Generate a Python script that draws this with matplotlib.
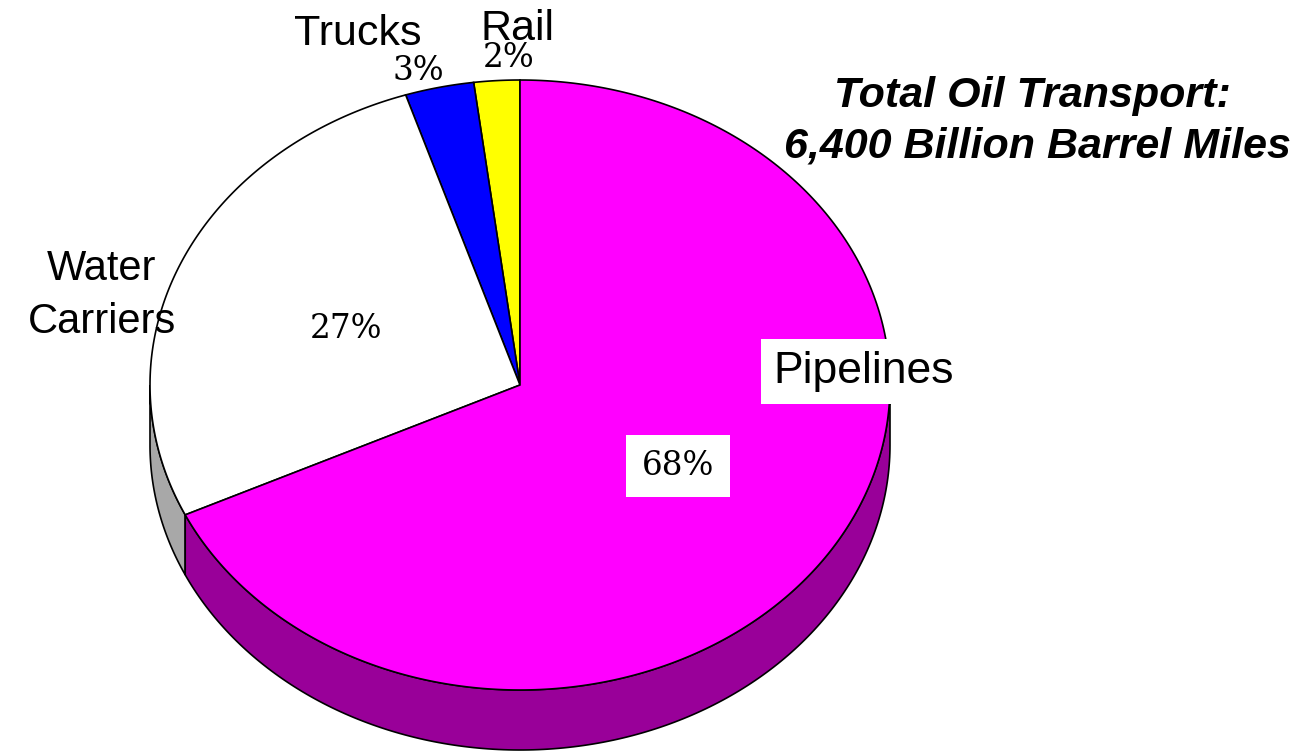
import numpy as np
import matplotlib
matplotlib.use('Agg')
import matplotlib.pyplot as plt
from matplotlib.patches import Polygon

# slices, counter-clockwise from 12 o'clock
labels = ['Rail', 'Trucks', 'Water\nCarriers', 'Pipelines']
values = [2, 3, 27, 68]
pct_text = ['2%', '3%', '27%', '68%']
top_colors = ['#FFFF00', '#0000FF', '#FFFFFF', '#FF00FF']
side_colors = ['#999900', '#000099', '#A8A8A8', '#990099']
title = 'Total Oil Transport:\n6,400 Billion Barrel Miles'

W, H = 1309, 753
fig = plt.figure(figsize=(W / 100, H / 100), dpi=100)
ax = fig.add_axes([0, 0, 1, 1])
ax.set_xlim(0, W)
ax.set_ylim(H, 0)
ax.axis('off')

cx, cy, rx, ry, depth = 520, 385, 370, 305, 60


def pt(a):
    r = np.radians(a)
    return cx + rx * np.cos(r), cy - ry * np.sin(r)


frac = np.array(values) / np.sum(values)
starts = 90 + np.concatenate([[0], np.cumsum(frac)[:-1]]) * 360
ends = starts + frac * 360

# side walls (front half only)
for s, e, c in zip(starts, ends, side_colors):
    for lo, hi in [(180, 360), (540, 720)]:
        a0, a1 = max(s, lo), min(e, hi)
        if a1 <= a0:
            continue
        t = np.linspace(a0, a1, 200)
        x, y = pt(t)
        xs = np.concatenate([x, x[::-1]])
        ys = np.concatenate([y, y[::-1] + depth])
        ax.add_patch(Polygon(np.column_stack([xs, ys]), closed=True,
                             facecolor=c, edgecolor='black', lw=1.2, zorder=1))

# top faces
for s, e, c in zip(starts, ends, top_colors):
    t = np.linspace(s, e, 300)
    x, y = pt(t)
    xs = np.concatenate([[cx], x])
    ys = np.concatenate([[cy], y])
    ax.add_patch(Polygon(np.column_stack([xs, ys]), closed=True,
                         facecolor=c, edgecolor='black', lw=1.2, zorder=2))

sans = 'Liberation Sans'
serif = 'DejaVu Serif'

# category labels
ax.text(518, 40, labels[0], fontsize=31, family=sans, ha='center', va='baseline', zorder=5)
ax.text(358, 45, labels[1], fontsize=31, family=sans, ha='center', va='baseline', zorder=5)
for line, yb in zip(labels[2].split('\n'), [280, 333]):
    ax.text(102, yb, line, fontsize=30, family=sans, ha='center', va='baseline', zorder=5)
ax.text(864, 383, labels[3], fontsize=32, family=sans, ha='center', va='baseline', zorder=5,
        bbox=dict(facecolor='white', edgecolor='none', pad=9))

# percentages
ax.text(509, 67, pct_text[0], fontsize=23.5, family=serif, ha='center', va='baseline', zorder=5)
ax.text(418, 80, pct_text[1], fontsize=23.5, family=serif, ha='center', va='baseline', zorder=5)
ax.text(346, 338, pct_text[2], fontsize=23.5, family=serif, ha='center', va='baseline', zorder=5)
ax.text(678, 475, pct_text[3], fontsize=23.5, family=serif, ha='center', va='baseline', zorder=5,
        bbox=dict(facecolor='white', edgecolor='none', pad=11))

t1, t2 = title.split('\n')
ax.text(1032, 107, t1, fontsize=31, family=sans, style='italic', weight='bold',
        ha='center', va='baseline', zorder=5)
ax.text(1037, 157, t2, fontsize=31, family=sans, style='italic', weight='bold',
        ha='center', va='baseline', zorder=5)

fig.savefig('out.png', dpi=100)
